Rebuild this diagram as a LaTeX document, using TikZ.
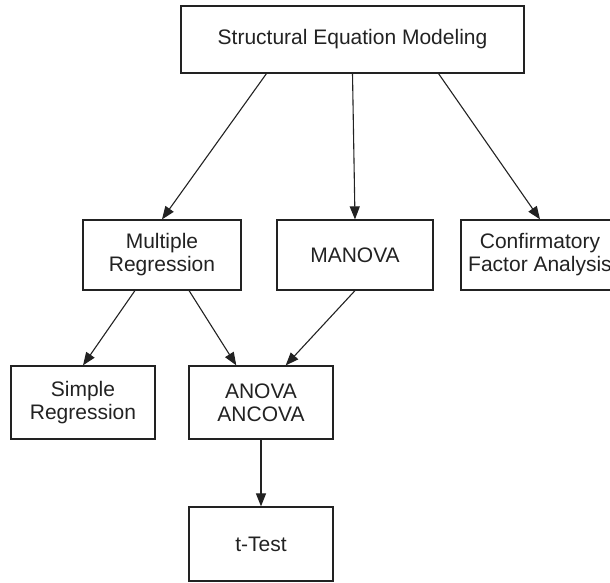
\documentclass[tikz,border=0pt]{standalone}
\usepackage{fontspec}
\setmainfont{Liberation Sans}
\usetikzlibrary{arrows.meta,calc}
\definecolor{ink}{HTML}{222222}
\tikzset{
  box/.style={draw=ink, line width=1.2pt, inner sep=0pt, align=center, text=ink,
    font=\fontsize{21}{23}\selectfont},
  conn/.style={draw=ink, line width=1.1pt, -{Triangle[length=13pt,width=10pt]}}
}
\begin{document}
\begin{tikzpicture}[x=1pt,y=-1pt]
\useasboundingbox (0,0) rectangle (610,582);
\clip (0,0) rectangle (610,582);
\node[box, minimum width=343pt, minimum height=67pt] (sem) at (352.5,39.5) {Structural Equation Modeling};
\node[box, minimum width=158pt, minimum height=70pt] (mr) at (162,255) {Multiple\\Regression};
\node[box, minimum width=156pt, minimum height=70pt] (man) at (355,255) {MANOVA};
\node[box, minimum width=158pt, minimum height=70pt] (cfa) at (540,255) {Confirmatory\\Factor Analysis};
\node[box, minimum width=144pt, minimum height=73pt] (sr) at (83,402.5) {Simple\\Regression};
\node[box, minimum width=144pt, minimum height=73pt] (ano) at (261,402.5) {ANOVA\\ANCOVA};
\node[box, minimum width=144pt, minimum height=74pt] (tt) at (261,544) {t-Test};
\draw[conn] ($(sem.south west)!0.25!(sem.south east)$) -- (mr.north);
\draw[conn] (sem.south) -- (man.north);
\draw[conn] ($(sem.south west)!0.75!(sem.south east)$) -- (cfa.north);
\draw[conn] ($(mr.south west)!0.33!(mr.south east)$) -- (sr.north);
\draw[conn] ($(mr.south west)!0.67!(mr.south east)$) -- ($(ano.north west)!0.33!(ano.north east)$);
\draw[conn] (man.south) -- ($(ano.north west)!0.67!(ano.north east)$);
\draw[conn] (ano.south) -- (tt.north);
\end{tikzpicture}
\end{document}
